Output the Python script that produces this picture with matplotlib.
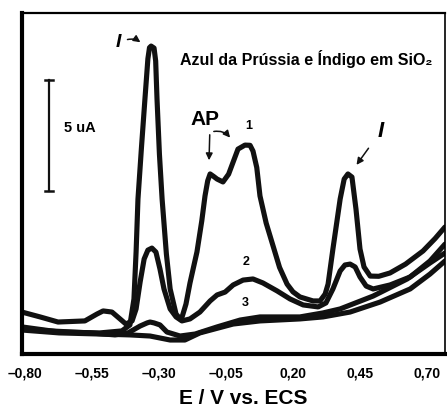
import matplotlib
matplotlib.use("Agg")
import matplotlib.pyplot as plt

plt.rcParams['font.family'] = ['Liberation Sans', 'DejaVu Sans']
plt.rcParams['font.weight'] = 'bold'

# potential (V vs. ECS) and current (uA)
E1 = [-0.811, -0.672, -0.520, -0.438, -0.408, -0.393, -0.385, -0.378, -0.365, -0.352, -0.341, -0.335,
      -0.329, -0.318, -0.312, -0.307, -0.298, -0.288, -0.272, -0.258, -0.236, -0.217, -0.199, -0.184,
      -0.158, -0.140, -0.128, -0.118, -0.109, -0.096, -0.083, -0.061, -0.040, -0.023, -0.005, 0.021,
      0.040, 0.051, 0.065, 0.077, 0.100, 0.126, 0.150, 0.178, 0.200, 0.226, 0.275, 0.301, 0.320, 0.331,
      0.349, 0.376, 0.391, 0.405, 0.420, 0.435, 0.450, 0.465, 0.488, 0.520, 0.562, 0.620, 0.685, 0.730, 0.767]
I1 = [1.22, 0.99, 0.95, 1.04, 1.31, 2.48, 4.60, 6.98, 9.30, 11.49, 13.30, 13.80,
      13.87, 13.78, 13.20, 11.49, 9.00, 6.98, 4.50, 2.93, 1.80, 1.53, 2.25, 3.20,
      4.60, 6.00, 7.12, 7.80, 8.11, 8.00, 7.88, 7.75, 8.10, 8.65, 9.23, 9.41,
      9.40, 9.14, 8.40, 7.12, 5.90, 4.86, 3.90, 3.15, 2.80, 2.57, 2.39, 2.39, 2.70, 3.15,
      4.73, 6.98, 7.88, 8.11, 7.97, 6.53, 4.73, 3.92, 3.51, 3.50, 3.65, 4.05, 4.64, 5.20, 5.72]

E2 = [-0.811, -0.743, -0.676, -0.576, -0.531, -0.508, -0.475, -0.445, -0.423, -0.400, -0.385, -0.370,
      -0.355, -0.341, -0.326, -0.311, -0.296, -0.281, -0.258, -0.236, -0.214, -0.184, -0.147, -0.109,
      -0.083, -0.053, -0.023, 0.014, 0.051, 0.088, 0.141, 0.189, 0.238, 0.294, 0.323, 0.349, 0.376,
      0.394, 0.413, 0.432, 0.450, 0.473, 0.499, 0.562, 0.637, 0.711, 0.767]
I2 = [1.89, 1.67, 1.44, 1.49, 1.80, 1.94, 1.89, 1.58, 1.35, 1.49, 2.03, 3.24,
      4.28, 4.68, 4.77, 4.59, 3.83, 2.93, 2.03, 1.67, 1.49, 1.58, 1.89, 2.39,
      2.66, 2.79, 3.11, 3.33, 3.38, 3.20, 2.84, 2.48, 2.21, 2.12, 2.30, 2.93, 3.74,
      4.01, 4.05, 3.92, 3.47, 3.06, 2.93, 3.11, 3.47, 4.19, 4.95]

E3 = [-0.811, -0.706, -0.557, -0.464, -0.415, -0.370, -0.344, -0.333, -0.318, -0.296, -0.270, -0.221,
      -0.165, -0.083, 0.003, 0.077, 0.152, 0.226, 0.312, 0.376, 0.499, 0.626, 0.711, 0.767]
I3 = [1.13, 1.04, 0.95, 0.86, 0.95, 1.26, 1.40, 1.44, 1.40, 1.31, 0.99, 0.81,
      0.90, 1.22, 1.53, 1.67, 1.67, 1.67, 1.85, 2.03, 2.61, 3.38, 4.10, 4.55]

# blank trace (no label in the figure)
E0 = [-0.811, -0.672, -0.520, -0.408, -0.333, -0.258, -0.203, -0.147, -0.023, 0.077, 0.226, 0.312,
      0.413, 0.525, 0.637, 0.711, 0.767]
I0 = [1.08, 0.95, 0.90, 0.86, 0.81, 0.63, 0.63, 0.95, 1.35, 1.49, 1.58, 1.67,
      1.89, 2.34, 2.93, 3.60, 4.19]

xticks = [-0.80, -0.55, -0.30, -0.05, 0.20, 0.45, 0.70]
xticklabels = ['\u20130,80', '\u20130,55', '\u20130,30', '\u20130,05', '0,20', '0,45', '0,70']

fig = plt.figure(figsize=(4.47, 4.10), dpi=100)
ax = fig.add_axes([22/447, 55/410, 423/447, 341/410])

for E, I in [(E0, I0), (E3, I3), (E2, I2), (E1, I1)]:
    ax.plot(E, I, color='#111111', lw=3.7, solid_joinstyle='round', solid_capstyle='round')

ax.set_xlim(-0.8105, 0.767)
ax.set_ylim(0, 15.36)
ax.set_yticks([])
ax.set_xticks(xticks)
ax.set_xticklabels(xticklabels, fontsize=10, fontweight='bold')
ax.tick_params(axis='x', length=0, pad=8)
ax.spines['left'].set_linewidth(3)
ax.spines['bottom'].set_linewidth(3)
ax.spines['top'].set_linewidth(1.6)
ax.spines['right'].set_linewidth(1.2)

ax.set_xlabel('E / V vs. ECS', fontsize=15, fontweight='bold')
ax.xaxis.set_label_coords(0.522, -0.129)
ax.xaxis.label.set_va('center')

# scale bar 5 uA
ax.plot([-0.710, -0.710], [7.35, 12.35], color='#111111', lw=1.6)
ax.plot([-0.725, -0.695], [12.35, 12.35], color='#111111', lw=1.8)
ax.plot([-0.725, -0.695], [7.35, 7.35], color='#111111', lw=1.8)
ax.text(0.137, 0.666, '5 uA', transform=ax.transAxes, ha='center', va='center', fontsize=10.5)

ax.text(0.374, 0.868, 'Azul da Prússia e Índigo em SiO\u2082', transform=ax.transAxes,
        ha='left', va='center', fontsize=11.5)

ax.text(0.433, 0.692, 'AP', transform=ax.transAxes, ha='center', va='center', fontsize=15)
ax.text(0.537, 0.672, '1', transform=ax.transAxes, ha='center', va='center', fontsize=9)
ax.text(0.530, 0.273, '2', transform=ax.transAxes, ha='center', va='center', fontsize=9)
ax.text(0.527, 0.152, '3', transform=ax.transAxes, ha='center', va='center', fontsize=9)

ax.text(0.227, 0.915, 'I', transform=ax.transAxes, ha='center', va='center', fontsize=14,
        style='italic')
ax.text(0.849, 0.654, 'I', transform=ax.transAxes, ha='center', va='center', fontsize=16,
        style='italic')

arrow = dict(arrowstyle='-|>', color='#111111', lw=1.1, mutation_scale=10)
ax.annotate('', xy=(0.285, 0.909), xytext=(0.243, 0.920), xycoords='axes fraction',
            arrowprops=dict(arrow, connectionstyle='arc3,rad=-0.3'))
ax.annotate('', xy=(0.787, 0.548), xytext=(0.823, 0.610), xycoords='axes fraction',
            arrowprops=arrow)
ax.annotate('', xy=(0.442, 0.560), xytext=(0.444, 0.651), xycoords='axes fraction',
            arrowprops=arrow)
ax.annotate('', xy=(0.496, 0.628), xytext=(0.447, 0.651), xycoords='axes fraction',
            arrowprops=dict(arrow, connectionstyle='arc3,rad=-0.35'))

fig.savefig('out.png', dpi=100)
